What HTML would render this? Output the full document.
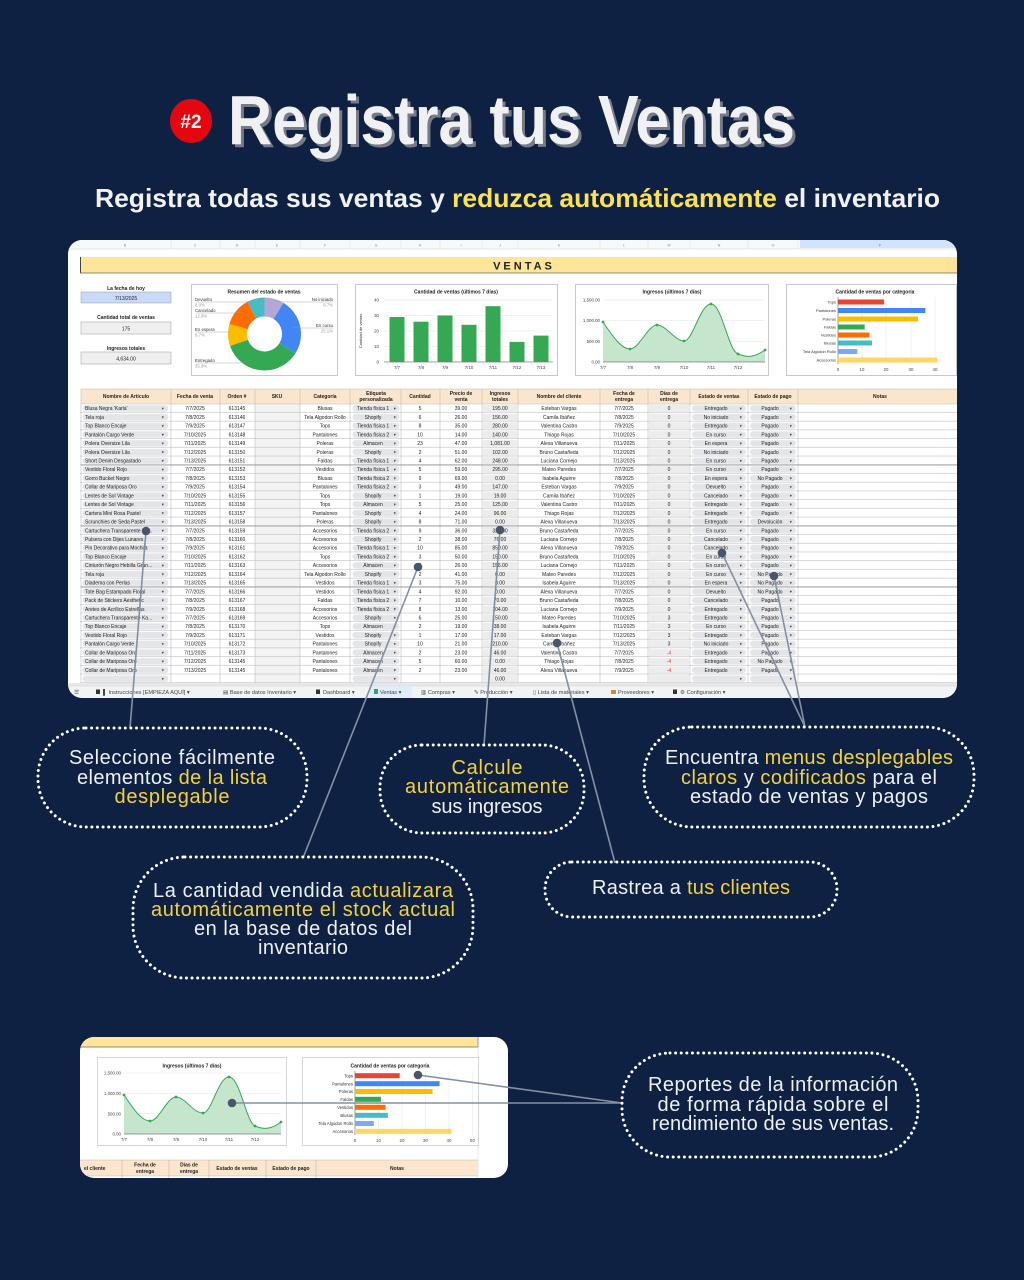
<!DOCTYPE html>
<html><head><meta charset="utf-8">
<style>
html,body{margin:0;padding:0;background:#0f2142;}
svg{display:block}
text{font-family:"Liberation Sans","DejaVu Sans",sans-serif}
.s{font-size:5px;fill:#222}
.m{text-anchor:middle}
.h{font-size:5px;font-weight:bold;fill:#222;text-anchor:middle}
.ax{font-size:4.4px;fill:#444}
.tt{font-size:5px;font-weight:bold;fill:#222;text-anchor:middle}
.co{font-size:20px;fill:#eef0f3;text-anchor:middle}
.y{fill:#f4d13d}
.dot{fill:#48566b}
.ln{stroke:#8490a4;stroke-width:1.6;fill:none}
.dd{fill:none;stroke:#fff;stroke-width:3;stroke-dasharray:0.01 5.6;stroke-linecap:round}
.tab{font-size:5.6px;fill:#444}
</style></head><body>
<svg width="1024" height="1280" viewBox="0 0 1024 1280" xmlns="http://www.w3.org/2000/svg">
<defs>
<clipPath id="sc"><rect x="68" y="240" width="889" height="458" rx="14"/></clipPath>
<clipPath id="ic"><rect x="80" y="1037" width="428" height="141" rx="14"/></clipPath>
<pattern id="rw" patternUnits="userSpaceOnUse" x="0" y="404" width="1024" height="8.72">
<rect width="1024" height="8.72" fill="#fff"/>
<rect x="255" width="45" height="8.72" fill="#f3f3f3"/>
<rect x="483" y="0.9" width="34" height="6.9" fill="#ececec"/>
<rect x="649" y="0.9" width="40" height="6.9" fill="#ececec"/>
<rect x="82.5" y="1.2" width="86" height="6.3" rx="3.1" fill="#e3e5e8"/>
<rect x="352.5" y="1.2" width="47" height="6.3" rx="3.1" fill="#e3e5e8"/>
<rect x="692" y="1.2" width="54" height="6.3" rx="3.1" fill="#e3e5e8"/>
<rect x="750" y="1.2" width="46" height="6.3" rx="3.1" fill="#e3e5e8"/>
<rect y="8.15" width="1024" height="0.6" fill="#bdbdbd"/>
<text x="161" y="5.8" font-size="3.6" fill="#333">▼</text>
<text x="393" y="5.8" font-size="3.6" fill="#333">▼</text>
<text x="739" y="5.8" font-size="3.6" fill="#333">▼</text>
<text x="789" y="5.8" font-size="3.6" fill="#333">▼</text>
</pattern>
</defs>
<rect width="1024" height="1280" fill="#0f2142"/>

<!-- Header -->
<ellipse cx="191" cy="121" rx="21" ry="22" fill="#e4070f"/>
<text x="191" y="128" text-anchor="middle" font-size="19" font-weight="bold" fill="#fff">#2</text>
<text x="231" y="147" font-size="70" font-weight="bold" fill="#767b88" textLength="567" lengthAdjust="spacingAndGlyphs">Registra tus Ventas</text>
<text x="228" y="144" font-size="70" font-weight="bold" fill="#f1f1f3" textLength="567" lengthAdjust="spacingAndGlyphs">Registra tus Ventas</text>
<text x="95" y="207" font-size="26" font-weight="bold" fill="#f1f1f3" textLength="845" lengthAdjust="spacingAndGlyphs">Registra todas sus ventas y <tspan fill="#fde24f">reduzca automáticamente</tspan> el inventario</text>

<!-- Spreadsheet -->
<g clip-path="url(#sc)">
<rect x="68" y="240" width="889" height="458" fill="#fff"/>
<rect x="68" y="240" width="889" height="9" fill="#f8f9fa"/>
<rect x="800" y="240" width="157" height="8" fill="#d3e3fd"/>
<line x1="68" y1="249" x2="957" y2="249" stroke="#ccc" stroke-width="0.6"/>
<g font-size="3.6" fill="#888" text-anchor="middle">
<text x="125" y="246.5">B</text><text x="195" y="246.5">C</text><text x="237" y="246.5">D</text><text x="277" y="246.5">E</text><text x="325" y="246.5">F</text><text x="376" y="246.5">G</text><text x="420" y="246.5">H</text><text x="461" y="246.5">I</text><text x="500" y="246.5">J</text><text x="559" y="246.5">K</text><text x="624" y="246.5">L</text><text x="669" y="246.5">M</text><text x="719" y="246.5">N</text><text x="773" y="246.5">O</text><text x="880" y="246.5">P</text>
</g>
<g stroke="#ddd" stroke-width="0.5"><line x1="171" y1="240" x2="171" y2="249"/><line x1="220" y1="240" x2="220" y2="249"/><line x1="255" y1="240" x2="255" y2="249"/><line x1="300" y1="240" x2="300" y2="249"/><line x1="350" y1="240" x2="350" y2="249"/><line x1="401" y1="240" x2="401" y2="249"/><line x1="440" y1="240" x2="440" y2="249"/><line x1="482" y1="240" x2="482" y2="249"/><line x1="518" y1="240" x2="518" y2="249"/><line x1="600" y1="240" x2="600" y2="249"/><line x1="648" y1="240" x2="648" y2="249"/><line x1="690" y1="240" x2="690" y2="249"/><line x1="748" y1="240" x2="748" y2="249"/><line x1="798" y1="240" x2="798" y2="249"/></g>

<!-- banner -->
<rect x="80" y="257" width="877" height="16" fill="#ffe599"/>
<line x1="80.5" y1="257" x2="80.5" y2="273" stroke="#444" stroke-width="1"/>
<line x1="80" y1="273" x2="957" y2="273" stroke="#666" stroke-width="0.8"/>
<text x="524" y="269.5" text-anchor="middle" font-size="11" font-weight="bold" fill="#222" letter-spacing="3">VENTAS</text>

<!-- left summary -->
<text x="126" y="290" class="tt" font-size="5.6">La fecha de hoy</text>
<rect x="81" y="292" width="90" height="11" fill="#c9daf8" stroke="#999" stroke-width="0.5"/>
<text x="126" y="299.8" class="s m" font-size="5.4">7/13/2025</text>
<text x="126" y="319" class="tt" font-size="5.6">Cantidad total de ventas</text>
<rect x="81" y="322" width="90" height="12" fill="#efefef" stroke="#999" stroke-width="0.5"/>
<text x="126" y="330.3" class="s m" font-size="5.4">175</text>
<text x="126" y="350" class="tt" font-size="5.6">Ingresos totales</text>
<rect x="81" y="352" width="90" height="12" fill="#efefef" stroke="#999" stroke-width="0.5"/>
<text x="126" y="360.3" class="s m" font-size="5.4">4,634.00</text>

<!-- donut chart -->
<rect x="191.5" y="284.5" width="146" height="91" fill="#fff" stroke="#bbb" stroke-width="0.8"/>
<text x="264" y="293.5" class="tt" font-size="4.6">Resumen del estado de ventas</text>
<g transform="rotate(-90 264.5 334)" fill="none" stroke-width="19">
<circle cx="264.5" cy="334" r="27" stroke="#b4a7d6" stroke-dasharray="14.76 200" stroke-dashoffset="0"/>
<circle cx="264.5" cy="334" r="27" stroke="#4285f4" stroke-dasharray="42.58 200" stroke-dashoffset="-14.76"/>
<circle cx="264.5" cy="334" r="27" stroke="#34a853" stroke-dasharray="60.73 200" stroke-dashoffset="-57.34"/>
<circle cx="264.5" cy="334" r="27" stroke="#fbbc04" stroke-dasharray="16.46 200" stroke-dashoffset="-118.07"/>
<circle cx="264.5" cy="334" r="27" stroke="#ff6d01" stroke-dasharray="21.72 200" stroke-dashoffset="-134.53"/>
<circle cx="264.5" cy="334" r="27" stroke="#46bdc6" stroke-dasharray="13.40 200" stroke-dashoffset="-156.25"/>
</g>
<g stroke="#999" stroke-width="0.4" fill="none">
<polyline points="196,302 245,302 258,300"/><polyline points="196,313 235,313 240,312"/><polyline points="196,332 230,332"/><polyline points="196,363 240,363 252,360"/><polyline points="333,302 285,302 275,301"/><polyline points="333,328 300,328 292,327"/>
</g>
<g font-size="4.3" fill="#333">
<text x="195" y="301">Devuelto</text><text x="195" y="306.5" fill="#999">8.0%</text>
<text x="195" y="312">Cancelado</text><text x="195" y="317.5" fill="#999">12.8%</text>
<text x="195" y="331">En espera</text><text x="195" y="336.5" fill="#999">9.7%</text>
<text x="195" y="362">Entregado</text><text x="195" y="367.5" fill="#999">35.8%</text>
<text x="333" y="301" text-anchor="end">No iniciado</text><text x="333" y="306.5" text-anchor="end" fill="#999">8.7%</text>
<text x="333" y="327" text-anchor="end">En curso</text><text x="333" y="332.5" text-anchor="end" fill="#999">25.1%</text>
</g>

<!-- bar chart -->
<rect x="355.5" y="284.5" width="202" height="91" fill="#fff" stroke="#bbb" stroke-width="0.8"/>
<text x="456" y="293.5" class="tt" font-size="4.6">Cantidad de ventas (últimos 7 días)</text>
<g stroke="#e3e3e3" stroke-width="0.5"><line x1="384" y1="300" x2="553" y2="300"/><line x1="384" y1="315.5" x2="553" y2="315.5"/><line x1="384" y1="331" x2="553" y2="331"/><line x1="384" y1="346.5" x2="553" y2="346.5"/></g>
<line x1="384" y1="362" x2="553" y2="362" stroke="#444" stroke-width="0.5"/>
<g class="ax" text-anchor="end"><text x="379" y="301.5">40</text><text x="379" y="317">30</text><text x="379" y="332.5">20</text><text x="379" y="348">10</text><text x="379" y="363.5">0</text></g>
<text transform="translate(362 331) rotate(-90)" text-anchor="middle" font-size="4" fill="#333">Cantidad de ventas</text>
<g fill="#34a853">
<rect x="389.5" y="317" width="15" height="45"/><rect x="413.5" y="321.7" width="15" height="40.3"/><rect x="437.5" y="315.5" width="15" height="46.5"/><rect x="461.5" y="324.8" width="15" height="37.2"/><rect x="485.5" y="306.2" width="15" height="55.8"/><rect x="509.5" y="341.9" width="15" height="20.1"/><rect x="533.5" y="335.6" width="15" height="26.4"/>
</g>
<g class="ax" text-anchor="middle"><text x="397" y="369">7/7</text><text x="421" y="369">7/8</text><text x="445" y="369">7/9</text><text x="469" y="369">7/10</text><text x="493" y="369">7/11</text><text x="517" y="369">7/12</text><text x="541" y="369">7/13</text></g>

<!-- line chart -->
<rect x="575.5" y="284.5" width="193" height="91" fill="#fff" stroke="#bbb" stroke-width="0.8"/>
<text x="672" y="293.5" class="tt" font-size="4.6">Ingresos (últimos 7 días)</text>
<g stroke="#e3e3e3" stroke-width="0.5"><line x1="603" y1="300" x2="765" y2="300"/><line x1="603" y1="320.7" x2="765" y2="320.7"/><line x1="603" y1="341.3" x2="765" y2="341.3"/></g>
<g class="ax" text-anchor="end"><text x="600" y="301.5">1,500.00</text><text x="600" y="322.2">1,000.00</text><text x="600" y="342.8">500.00</text><text x="600" y="363.5">0.00</text></g>
<path d="M603,322 C612,335 621,349 630,349 C639,349 648,325 657,325 C666,325 675,341 684,341 C693,341 700,304 711,304 C722,304 728,350 738,354 C748,358 755,357 765,350 L765,362 L603,362 Z" fill="#c5e5cc"/>
<path d="M603,322 C612,335 621,349 630,349 C639,349 648,325 657,325 C666,325 675,341 684,341 C693,341 700,304 711,304 C722,304 728,350 738,354 C748,358 755,357 765,350" fill="none" stroke="#34a853" stroke-width="1"/>
<line x1="603" y1="362" x2="765" y2="362" stroke="#444" stroke-width="0.5"/>
<g fill="#34a853"><circle cx="603" cy="322" r="1.4"/><circle cx="630" cy="349" r="1.4"/><circle cx="657" cy="325" r="1.4"/><circle cx="684" cy="341" r="1.4"/><circle cx="711" cy="304" r="1.4"/><circle cx="738" cy="354" r="1.4"/><circle cx="765" cy="350" r="1.4"/></g>
<g class="ax" text-anchor="middle"><text x="603" y="369">7/7</text><text x="630" y="369">7/8</text><text x="657" y="369">7/9</text><text x="684" y="369">7/10</text><text x="711" y="369">7/11</text><text x="738" y="369">7/12</text></g>

<!-- category chart -->
<rect x="786.5" y="284.5" width="170" height="91" fill="#fff" stroke="#bbb" stroke-width="0.8"/>
<text x="875" y="293.5" class="tt" font-size="4.6">Cantidad de ventas por categoría</text>
<g stroke="#e3e3e3" stroke-width="0.5"><line x1="862" y1="297" x2="862" y2="364"/><line x1="886" y1="297" x2="886" y2="364"/><line x1="911" y1="297" x2="911" y2="364"/><line x1="935" y1="297" x2="935" y2="364"/></g>
<line x1="838" y1="297" x2="838" y2="364" stroke="#444" stroke-width="0.5"/>
<g font-size="4" fill="#333" text-anchor="end">
<text x="836" y="303.4">Tops</text><text x="836" y="311.9">Pantalones</text><text x="836" y="320.4">Poleras</text><text x="836" y="328.4">Faldas</text><text x="836" y="336.4">Vestidos</text><text x="836" y="344.4">Blusas</text><text x="836" y="352.9">Tela Algodon Rollo</text><text x="836" y="361.4">Accesorios</text>
</g>
<rect x="838" y="299.5" width="46.1" height="5" fill="#ea4335"/>
<rect x="838" y="308" width="87.3" height="5" fill="#4285f4"/>
<rect x="838" y="316.5" width="80" height="5" fill="#fbbc04"/>
<rect x="838" y="324.5" width="26.7" height="5" fill="#34a853"/>
<rect x="838" y="332.5" width="31.5" height="5" fill="#ff6d01"/>
<rect x="838" y="340.5" width="34" height="5" fill="#46bdc6"/>
<rect x="838" y="349" width="19.4" height="5" fill="#7baaf7"/>
<rect x="838" y="357.5" width="99.4" height="5" fill="#fdd663"/>
<g class="ax" text-anchor="middle"><text x="838" y="371">0</text><text x="862" y="371">10</text><text x="886" y="371">20</text><text x="911" y="371">30</text><text x="935" y="371">40</text></g>

<!-- table -->
<rect x="81" y="389" width="876" height="15" fill="#fce5cd"/>
<rect x="80" y="404" width="877" height="279.04" fill="url(#rw)"/>
<g stroke="#bdbdbd" stroke-width="0.6">
<line x1="81" y1="389" x2="81" y2="683"/><line x1="171" y1="389" x2="171" y2="683"/><line x1="220" y1="389" x2="220" y2="683"/><line x1="255" y1="389" x2="255" y2="683"/><line x1="300" y1="389" x2="300" y2="683"/><line x1="350" y1="389" x2="350" y2="683"/><line x1="401" y1="389" x2="401" y2="683"/><line x1="440" y1="389" x2="440" y2="683"/><line x1="482" y1="389" x2="482" y2="683"/><line x1="518" y1="389" x2="518" y2="683"/><line x1="600" y1="389" x2="600" y2="683"/><line x1="648" y1="389" x2="648" y2="683"/><line x1="690" y1="389" x2="690" y2="683"/><line x1="748" y1="389" x2="748" y2="683"/><line x1="798" y1="389" x2="798" y2="683"/>
<line x1="81" y1="389" x2="957" y2="389"/><line x1="81" y1="404" x2="957" y2="404"/>
</g>
<g stroke="#888" stroke-width="0.7"><line x1="81" y1="465" x2="957" y2="465"/><line x1="81" y1="526" x2="957" y2="526"/><line x1="81" y1="587" x2="957" y2="587"/></g>
<g class="h">
<text x="126" y="398">Nombre de Artículo</text><text x="195" y="398">Fecha de venta</text><text x="237" y="398">Orden #</text><text x="277" y="398">SKU</text><text x="325" y="398">Categoría</text>
<text x="376" y="395">Etiqueta</text><text x="376" y="401">personalizada</text>
<text x="420" y="398">Cantidad</text>
<text x="461" y="395">Precio de</text><text x="461" y="401">venta</text>
<text x="500" y="395">Ingresos</text><text x="500" y="401">totales</text>
<text x="559" y="398">Nombre del cliente</text>
<text x="624" y="395">Fecha de</text><text x="624" y="401">entrega</text>
<text x="669" y="395">Días de</text><text x="669" y="401">entrega</text>
<text x="719" y="398">Estado de ventas</text><text x="773" y="398">Estado de pago</text><text x="880" y="398">Notas</text>
</g>

<text class="s" y="410.2"><tspan x="85">Blusa Negra 'Karla'</tspan><tspan x="85" dy="8.72">Tela roja</tspan><tspan x="85" dy="8.72">Top Blanco Encaje</tspan><tspan x="85" dy="8.72">Pantalón Cargo Verde</tspan><tspan x="85" dy="8.72">Polera Oversize Lila</tspan><tspan x="85" dy="8.72">Polera Oversize Lila</tspan><tspan x="85" dy="8.72">Short Denim Desgastado</tspan><tspan x="85" dy="8.72">Vestido Floral Rojo</tspan><tspan x="85" dy="8.72">Gorro Bucket Negro</tspan><tspan x="85" dy="8.72">Collar de Mariposa Oro</tspan><tspan x="85" dy="8.72">Lentes de Sol Vintage</tspan><tspan x="85" dy="8.72">Lentes de Sol Vintage</tspan><tspan x="85" dy="8.72">Cartera Mini Rosa Pastel</tspan><tspan x="85" dy="8.72">Scrunchies de Seda Pastel</tspan><tspan x="85" dy="8.72">Cartuchera Transparente Ka...</tspan><tspan x="85" dy="8.72">Pulsera con Dijes Lunares</tspan><tspan x="85" dy="8.72">Pin Decorativo para Mochila</tspan><tspan x="85" dy="8.72">Top Blanco Encaje</tspan><tspan x="85" dy="8.72">Cinturón Negro Hebilla Gran...</tspan><tspan x="85" dy="8.72">Tela roja</tspan><tspan x="85" dy="8.72">Diadema con Perlas</tspan><tspan x="85" dy="8.72">Tote Bag Estampado Floral</tspan><tspan x="85" dy="8.72">Pack de Stickers Aesthetic</tspan><tspan x="85" dy="8.72">Aretes de Acrílico Estrellas</tspan><tspan x="85" dy="8.72">Cartuchera Transparente Ka...</tspan><tspan x="85" dy="8.72">Top Blanco Encaje</tspan><tspan x="85" dy="8.72">Vestido Floral Rojo</tspan><tspan x="85" dy="8.72">Pantalón Cargo Verde</tspan><tspan x="85" dy="8.72">Collar de Mariposa Oro</tspan><tspan x="85" dy="8.72">Collar de Mariposa Oro</tspan><tspan x="85" dy="8.72">Collar de Mariposa Oro</tspan></text>

<text class="s m" y="410.2"><tspan x="195">7/7/2025</tspan><tspan x="195" dy="8.72">7/8/2025</tspan><tspan x="195" dy="8.72">7/9/2025</tspan><tspan x="195" dy="8.72">7/10/2025</tspan><tspan x="195" dy="8.72">7/11/2025</tspan><tspan x="195" dy="8.72">7/12/2025</tspan><tspan x="195" dy="8.72">7/13/2025</tspan><tspan x="195" dy="8.72">7/7/2025</tspan><tspan x="195" dy="8.72">7/8/2025</tspan><tspan x="195" dy="8.72">7/9/2025</tspan><tspan x="195" dy="8.72">7/10/2025</tspan><tspan x="195" dy="8.72">7/11/2025</tspan><tspan x="195" dy="8.72">7/12/2025</tspan><tspan x="195" dy="8.72">7/13/2025</tspan><tspan x="195" dy="8.72">7/7/2025</tspan><tspan x="195" dy="8.72">7/8/2025</tspan><tspan x="195" dy="8.72">7/9/2025</tspan><tspan x="195" dy="8.72">7/10/2025</tspan><tspan x="195" dy="8.72">7/11/2025</tspan><tspan x="195" dy="8.72">7/12/2025</tspan><tspan x="195" dy="8.72">7/13/2025</tspan><tspan x="195" dy="8.72">7/7/2025</tspan><tspan x="195" dy="8.72">7/8/2025</tspan><tspan x="195" dy="8.72">7/9/2025</tspan><tspan x="195" dy="8.72">7/7/2025</tspan><tspan x="195" dy="8.72">7/8/2025</tspan><tspan x="195" dy="8.72">7/9/2025</tspan><tspan x="195" dy="8.72">7/10/2025</tspan><tspan x="195" dy="8.72">7/11/2025</tspan><tspan x="195" dy="8.72">7/12/2025</tspan><tspan x="195" dy="8.72">7/13/2025</tspan></text>

<text class="s m" y="410.2"><tspan x="237">613145</tspan><tspan x="237" dy="8.72">613146</tspan><tspan x="237" dy="8.72">613147</tspan><tspan x="237" dy="8.72">613148</tspan><tspan x="237" dy="8.72">613149</tspan><tspan x="237" dy="8.72">613150</tspan><tspan x="237" dy="8.72">613151</tspan><tspan x="237" dy="8.72">613152</tspan><tspan x="237" dy="8.72">613153</tspan><tspan x="237" dy="8.72">613154</tspan><tspan x="237" dy="8.72">613155</tspan><tspan x="237" dy="8.72">613156</tspan><tspan x="237" dy="8.72">613157</tspan><tspan x="237" dy="8.72">613158</tspan><tspan x="237" dy="8.72">613159</tspan><tspan x="237" dy="8.72">613160</tspan><tspan x="237" dy="8.72">613161</tspan><tspan x="237" dy="8.72">613162</tspan><tspan x="237" dy="8.72">613163</tspan><tspan x="237" dy="8.72">613164</tspan><tspan x="237" dy="8.72">613165</tspan><tspan x="237" dy="8.72">613166</tspan><tspan x="237" dy="8.72">613167</tspan><tspan x="237" dy="8.72">613168</tspan><tspan x="237" dy="8.72">613169</tspan><tspan x="237" dy="8.72">613170</tspan><tspan x="237" dy="8.72">613171</tspan><tspan x="237" dy="8.72">613172</tspan><tspan x="237" dy="8.72">613173</tspan><tspan x="237" dy="8.72">613145</tspan><tspan x="237" dy="8.72">613145</tspan></text>

<text class="s m" y="410.2"><tspan x="325">Blusas</tspan><tspan x="325" dy="8.72">Tela Algodon Rollo</tspan><tspan x="325" dy="8.72">Tops</tspan><tspan x="325" dy="8.72">Pantalones</tspan><tspan x="325" dy="8.72">Poleras</tspan><tspan x="325" dy="8.72">Poleras</tspan><tspan x="325" dy="8.72">Faldas</tspan><tspan x="325" dy="8.72">Vestidos</tspan><tspan x="325" dy="8.72">Blusas</tspan><tspan x="325" dy="8.72">Pantalones</tspan><tspan x="325" dy="8.72">Tops</tspan><tspan x="325" dy="8.72">Tops</tspan><tspan x="325" dy="8.72">Pantalones</tspan><tspan x="325" dy="8.72">Poleras</tspan><tspan x="325" dy="8.72">Accesorios</tspan><tspan x="325" dy="8.72">Accesorios</tspan><tspan x="325" dy="8.72">Accesorios</tspan><tspan x="325" dy="8.72">Tops</tspan><tspan x="325" dy="8.72">Accesorios</tspan><tspan x="325" dy="8.72">Tela Algodon Rollo</tspan><tspan x="325" dy="8.72">Vestidos</tspan><tspan x="325" dy="8.72">Vestidos</tspan><tspan x="325" dy="8.72">Faldas</tspan><tspan x="325" dy="8.72">Accesorios</tspan><tspan x="325" dy="8.72">Accesorios</tspan><tspan x="325" dy="8.72">Tops</tspan><tspan x="325" dy="8.72">Vestidos</tspan><tspan x="325" dy="8.72">Pantalones</tspan><tspan x="325" dy="8.72">Pantalones</tspan><tspan x="325" dy="8.72">Pantalones</tspan><tspan x="325" dy="8.72">Pantalones</tspan></text>

<text class="s m" y="410.2"><tspan x="373">Tienda física 1</tspan><tspan x="373" dy="8.72">Shopify</tspan><tspan x="373" dy="8.72">Tienda física 1</tspan><tspan x="373" dy="8.72">Tienda física 2</tspan><tspan x="373" dy="8.72">Almacen</tspan><tspan x="373" dy="8.72">Shopify</tspan><tspan x="373" dy="8.72">Tienda física 1</tspan><tspan x="373" dy="8.72">Tienda física 1</tspan><tspan x="373" dy="8.72">Tienda física 2</tspan><tspan x="373" dy="8.72">Tienda física 2</tspan><tspan x="373" dy="8.72">Shopify</tspan><tspan x="373" dy="8.72">Almacen</tspan><tspan x="373" dy="8.72">Shopify</tspan><tspan x="373" dy="8.72">Shopify</tspan><tspan x="373" dy="8.72">Tienda física 2</tspan><tspan x="373" dy="8.72">Shopify</tspan><tspan x="373" dy="8.72">Tienda física 1</tspan><tspan x="373" dy="8.72">Tienda física 2</tspan><tspan x="373" dy="8.72">Almacen</tspan><tspan x="373" dy="8.72">Shopify</tspan><tspan x="373" dy="8.72">Tienda física 1</tspan><tspan x="373" dy="8.72">Tienda física 1</tspan><tspan x="373" dy="8.72">Tienda física 2</tspan><tspan x="373" dy="8.72">Tienda física 2</tspan><tspan x="373" dy="8.72">Shopify</tspan><tspan x="373" dy="8.72">Almacen</tspan><tspan x="373" dy="8.72">Shopify</tspan><tspan x="373" dy="8.72">Shopify</tspan><tspan x="373" dy="8.72">Almacen</tspan><tspan x="373" dy="8.72">Almacen</tspan><tspan x="373" dy="8.72">Almacen</tspan></text>

<text class="s m" y="410.2"><tspan x="420">5</tspan><tspan x="420" dy="8.72">6</tspan><tspan x="420" dy="8.72">8</tspan><tspan x="420" dy="8.72">10</tspan><tspan x="420" dy="8.72">23</tspan><tspan x="420" dy="8.72">2</tspan><tspan x="420" dy="8.72">4</tspan><tspan x="420" dy="8.72">5</tspan><tspan x="420" dy="8.72">9</tspan><tspan x="420" dy="8.72">3</tspan><tspan x="420" dy="8.72">1</tspan><tspan x="420" dy="8.72">5</tspan><tspan x="420" dy="8.72">4</tspan><tspan x="420" dy="8.72">8</tspan><tspan x="420" dy="8.72">9</tspan><tspan x="420" dy="8.72">2</tspan><tspan x="420" dy="8.72">10</tspan><tspan x="420" dy="8.72">3</tspan><tspan x="420" dy="8.72">6</tspan><tspan x="420" dy="8.72">2</tspan><tspan x="420" dy="8.72">3</tspan><tspan x="420" dy="8.72">4</tspan><tspan x="420" dy="8.72">7</tspan><tspan x="420" dy="8.72">8</tspan><tspan x="420" dy="8.72">6</tspan><tspan x="420" dy="8.72">2</tspan><tspan x="420" dy="8.72">1</tspan><tspan x="420" dy="8.72">10</tspan><tspan x="420" dy="8.72">2</tspan><tspan x="420" dy="8.72">5</tspan><tspan x="420" dy="8.72">2</tspan></text>

<text class="s m" y="410.2"><tspan x="461">39.00</tspan><tspan x="461" dy="8.72">26.00</tspan><tspan x="461" dy="8.72">35.00</tspan><tspan x="461" dy="8.72">14.00</tspan><tspan x="461" dy="8.72">47.00</tspan><tspan x="461" dy="8.72">51.00</tspan><tspan x="461" dy="8.72">62.00</tspan><tspan x="461" dy="8.72">59.00</tspan><tspan x="461" dy="8.72">69.00</tspan><tspan x="461" dy="8.72">49.00</tspan><tspan x="461" dy="8.72">19.00</tspan><tspan x="461" dy="8.72">25.00</tspan><tspan x="461" dy="8.72">24.00</tspan><tspan x="461" dy="8.72">71.00</tspan><tspan x="461" dy="8.72">36.00</tspan><tspan x="461" dy="8.72">38.00</tspan><tspan x="461" dy="8.72">85.00</tspan><tspan x="461" dy="8.72">50.00</tspan><tspan x="461" dy="8.72">26.00</tspan><tspan x="461" dy="8.72">41.00</tspan><tspan x="461" dy="8.72">75.00</tspan><tspan x="461" dy="8.72">92.00</tspan><tspan x="461" dy="8.72">10.00</tspan><tspan x="461" dy="8.72">13.00</tspan><tspan x="461" dy="8.72">25.00</tspan><tspan x="461" dy="8.72">19.00</tspan><tspan x="461" dy="8.72">17.00</tspan><tspan x="461" dy="8.72">21.00</tspan><tspan x="461" dy="8.72">23.00</tspan><tspan x="461" dy="8.72">60.00</tspan><tspan x="461" dy="8.72">23.00</tspan></text>

<text class="s m" y="410.2"><tspan x="500">195.00</tspan><tspan x="500" dy="8.72">156.00</tspan><tspan x="500" dy="8.72">280.00</tspan><tspan x="500" dy="8.72">140.00</tspan><tspan x="500" dy="8.72">1,081.00</tspan><tspan x="500" dy="8.72">102.00</tspan><tspan x="500" dy="8.72">248.00</tspan><tspan x="500" dy="8.72">295.00</tspan><tspan x="500" dy="8.72">0.00</tspan><tspan x="500" dy="8.72">147.00</tspan><tspan x="500" dy="8.72">19.00</tspan><tspan x="500" dy="8.72">125.00</tspan><tspan x="500" dy="8.72">96.00</tspan><tspan x="500" dy="8.72">0.00</tspan><tspan x="500" dy="8.72">324.00</tspan><tspan x="500" dy="8.72">76.00</tspan><tspan x="500" dy="8.72">850.00</tspan><tspan x="500" dy="8.72">150.00</tspan><tspan x="500" dy="8.72">156.00</tspan><tspan x="500" dy="8.72">0.00</tspan><tspan x="500" dy="8.72">0.00</tspan><tspan x="500" dy="8.72">0.00</tspan><tspan x="500" dy="8.72">70.00</tspan><tspan x="500" dy="8.72">104.00</tspan><tspan x="500" dy="8.72">150.00</tspan><tspan x="500" dy="8.72">38.00</tspan><tspan x="500" dy="8.72">17.00</tspan><tspan x="500" dy="8.72">210.00</tspan><tspan x="500" dy="8.72">46.00</tspan><tspan x="500" dy="8.72">0.00</tspan><tspan x="500" dy="8.72">46.00</tspan><tspan x="500" dy="8.72">0.00</tspan></text>

<text class="s m" y="410.2"><tspan x="559">Esteban Vargas</tspan><tspan x="559" dy="8.72">Camila Ibáñez</tspan><tspan x="559" dy="8.72">Valentina Castro</tspan><tspan x="559" dy="8.72">Thiago Rojas</tspan><tspan x="559" dy="8.72">Alexa Villanueva</tspan><tspan x="559" dy="8.72">Bruno Castañeda</tspan><tspan x="559" dy="8.72">Luciana Cornejo</tspan><tspan x="559" dy="8.72">Mateo Paredes</tspan><tspan x="559" dy="8.72">Isabela Aguirre</tspan><tspan x="559" dy="8.72">Esteban Vargas</tspan><tspan x="559" dy="8.72">Camila Ibáñez</tspan><tspan x="559" dy="8.72">Valentina Castro</tspan><tspan x="559" dy="8.72">Thiago Rojas</tspan><tspan x="559" dy="8.72">Alexa Villanueva</tspan><tspan x="559" dy="8.72">Bruno Castañeda</tspan><tspan x="559" dy="8.72">Luciana Cornejo</tspan><tspan x="559" dy="8.72">Alexa Villanueva</tspan><tspan x="559" dy="8.72">Bruno Castañeda</tspan><tspan x="559" dy="8.72">Luciana Cornejo</tspan><tspan x="559" dy="8.72">Mateo Paredes</tspan><tspan x="559" dy="8.72">Isabela Aguirre</tspan><tspan x="559" dy="8.72">Alexa Villanueva</tspan><tspan x="559" dy="8.72">Bruno Castañeda</tspan><tspan x="559" dy="8.72">Luciana Cornejo</tspan><tspan x="559" dy="8.72">Mateo Paredes</tspan><tspan x="559" dy="8.72">Isabela Aguirre</tspan><tspan x="559" dy="8.72">Esteban Vargas</tspan><tspan x="559" dy="8.72">Camila Ibáñez</tspan><tspan x="559" dy="8.72">Valentina Castro</tspan><tspan x="559" dy="8.72">Thiago Rojas</tspan><tspan x="559" dy="8.72">Alexa Villanueva</tspan></text>

<text class="s m" y="410.2"><tspan x="624">7/7/2025</tspan><tspan x="624" dy="8.72">7/8/2025</tspan><tspan x="624" dy="8.72">7/9/2025</tspan><tspan x="624" dy="8.72">7/10/2025</tspan><tspan x="624" dy="8.72">7/11/2025</tspan><tspan x="624" dy="8.72">7/12/2025</tspan><tspan x="624" dy="8.72">7/13/2025</tspan><tspan x="624" dy="8.72">7/7/2025</tspan><tspan x="624" dy="8.72">7/8/2025</tspan><tspan x="624" dy="8.72">7/9/2025</tspan><tspan x="624" dy="8.72">7/10/2025</tspan><tspan x="624" dy="8.72">7/11/2025</tspan><tspan x="624" dy="8.72">7/12/2025</tspan><tspan x="624" dy="8.72">7/13/2025</tspan><tspan x="624" dy="8.72">7/7/2025</tspan><tspan x="624" dy="8.72">7/8/2025</tspan><tspan x="624" dy="8.72">7/9/2025</tspan><tspan x="624" dy="8.72">7/10/2025</tspan><tspan x="624" dy="8.72">7/11/2025</tspan><tspan x="624" dy="8.72">7/12/2025</tspan><tspan x="624" dy="8.72">7/13/2025</tspan><tspan x="624" dy="8.72">7/7/2025</tspan><tspan x="624" dy="8.72">7/8/2025</tspan><tspan x="624" dy="8.72">7/9/2025</tspan><tspan x="624" dy="8.72">7/10/2025</tspan><tspan x="624" dy="8.72">7/11/2025</tspan><tspan x="624" dy="8.72">7/12/2025</tspan><tspan x="624" dy="8.72">7/13/2025</tspan><tspan x="624" dy="8.72">7/7/2025</tspan><tspan x="624" dy="8.72">7/8/2025</tspan><tspan x="624" dy="8.72">7/9/2025</tspan></text>

<text class="s m" y="410.2"><tspan x="669">0</tspan><tspan x="669" dy="8.72">0</tspan><tspan x="669" dy="8.72">0</tspan><tspan x="669" dy="8.72">0</tspan><tspan x="669" dy="8.72">0</tspan><tspan x="669" dy="8.72">0</tspan><tspan x="669" dy="8.72">0</tspan><tspan x="669" dy="8.72">0</tspan><tspan x="669" dy="8.72">0</tspan><tspan x="669" dy="8.72">0</tspan><tspan x="669" dy="8.72">0</tspan><tspan x="669" dy="8.72">0</tspan><tspan x="669" dy="8.72">0</tspan><tspan x="669" dy="8.72">0</tspan><tspan x="669" dy="8.72">0</tspan><tspan x="669" dy="8.72">0</tspan><tspan x="669" dy="8.72">0</tspan><tspan x="669" dy="8.72">0</tspan><tspan x="669" dy="8.72">0</tspan><tspan x="669" dy="8.72">0</tspan><tspan x="669" dy="8.72">0</tspan><tspan x="669" dy="8.72">0</tspan><tspan x="669" dy="8.72">0</tspan><tspan x="669" dy="8.72">0</tspan><tspan x="669" dy="8.72">3</tspan><tspan x="669" dy="8.72">3</tspan><tspan x="669" dy="8.72">3</tspan><tspan x="669" dy="8.72">3</tspan><tspan x="669" dy="8.72" fill="#e53935">-4</tspan><tspan x="669" dy="8.72" fill="#e53935">-4</tspan><tspan x="669" dy="8.72" fill="#e53935">-4</tspan></text>

<text class="s m" y="410.2"><tspan x="716">Entregado</tspan><tspan x="716" dy="8.72">No iniciado</tspan><tspan x="716" dy="8.72">Entregado</tspan><tspan x="716" dy="8.72">En curso</tspan><tspan x="716" dy="8.72">En espera</tspan><tspan x="716" dy="8.72">No iniciado</tspan><tspan x="716" dy="8.72">En curso</tspan><tspan x="716" dy="8.72">En curso</tspan><tspan x="716" dy="8.72">En espera</tspan><tspan x="716" dy="8.72">Devuelto</tspan><tspan x="716" dy="8.72">Cancelado</tspan><tspan x="716" dy="8.72">Entregado</tspan><tspan x="716" dy="8.72">Entregado</tspan><tspan x="716" dy="8.72">Entregado</tspan><tspan x="716" dy="8.72">En curso</tspan><tspan x="716" dy="8.72">Cancelado</tspan><tspan x="716" dy="8.72">Cancelado</tspan><tspan x="716" dy="8.72">En curso</tspan><tspan x="716" dy="8.72">En curso</tspan><tspan x="716" dy="8.72">En curso</tspan><tspan x="716" dy="8.72">En espera</tspan><tspan x="716" dy="8.72">Devuelto</tspan><tspan x="716" dy="8.72">Cancelado</tspan><tspan x="716" dy="8.72">Entregado</tspan><tspan x="716" dy="8.72">Entregado</tspan><tspan x="716" dy="8.72">En curso</tspan><tspan x="716" dy="8.72">Entregado</tspan><tspan x="716" dy="8.72">No iniciado</tspan><tspan x="716" dy="8.72">Entregado</tspan><tspan x="716" dy="8.72">Entregado</tspan><tspan x="716" dy="8.72">Entregado</tspan></text>

<text class="s m" y="410.2"><tspan x="770">Pagado</tspan><tspan x="770" dy="8.72">Pagado</tspan><tspan x="770" dy="8.72">Pagado</tspan><tspan x="770" dy="8.72">Pagado</tspan><tspan x="770" dy="8.72">Pagado</tspan><tspan x="770" dy="8.72">Pagado</tspan><tspan x="770" dy="8.72">Pagado</tspan><tspan x="770" dy="8.72">Pagado</tspan><tspan x="770" dy="8.72">No Pagado</tspan><tspan x="770" dy="8.72">Pagado</tspan><tspan x="770" dy="8.72">Pagado</tspan><tspan x="770" dy="8.72">Pagado</tspan><tspan x="770" dy="8.72">Pagado</tspan><tspan x="770" dy="8.72">Devolución</tspan><tspan x="770" dy="8.72">Pagado</tspan><tspan x="770" dy="8.72">Pagado</tspan><tspan x="770" dy="8.72">Pagado</tspan><tspan x="770" dy="8.72">Pagado</tspan><tspan x="770" dy="8.72">Pagado</tspan><tspan x="770" dy="8.72">No Pagado</tspan><tspan x="770" dy="8.72">No Pagado</tspan><tspan x="770" dy="8.72">No Pagado</tspan><tspan x="770" dy="8.72">Pagado</tspan><tspan x="770" dy="8.72">Pagado</tspan><tspan x="770" dy="8.72">Pagado</tspan><tspan x="770" dy="8.72">Pagado</tspan><tspan x="770" dy="8.72">Pagado</tspan><tspan x="770" dy="8.72">Pagado</tspan><tspan x="770" dy="8.72">Pagado</tspan><tspan x="770" dy="8.72">No Pagado</tspan><tspan x="770" dy="8.72">Pagado</tspan></text>

<!-- bottom bars -->
<rect x="68" y="683" width="889" height="3" fill="#e8e8e8"/>
<rect x="68" y="686" width="889" height="12" fill="#f1f3f4"/>
<line x1="68" y1="686" x2="957" y2="686" stroke="#d5d5d5" stroke-width="0.5"/>
<rect x="370" y="686" width="42" height="12" fill="#e1ecfb"/>
<text x="74" y="694" class="tab" fill="#666">☰</text>
<rect x="96" y="689.5" width="4" height="4.5" fill="#333"/>
<text x="103" y="694" class="tab">▌ Instrucciones [EMPIEZA AQUÍ]  ▾</text>
<text x="223" y="694" class="tab">▤ Base de datos Inventario  ▾</text>
<rect x="316" y="689.5" width="4" height="4.5" fill="#333"/>
<text x="323" y="694" class="tab">Dashboard  ▾</text>
<rect x="374" y="689" width="4" height="5" fill="#34a853"/>
<text x="380" y="694" class="tab" fill="#1a73e8">Ventas  ▾</text>
<text x="421" y="694" class="tab">▥ Compras  ▾</text>
<text x="474" y="694" class="tab">✎ Producción  ▾</text>
<text x="533" y="694" class="tab">▯ Lista de materiales  ▾</text>
<rect x="611" y="690" width="5" height="4" fill="#e0862a"/>
<text x="618" y="694" class="tab">Proveedores  ▾</text>
<rect x="673" y="689.5" width="4" height="4.5" fill="#333"/>
<text x="680" y="694" class="tab">⚙ Configuración  ▾</text>
</g>

<!-- Inset -->
<g clip-path="url(#ic)">
<rect x="80" y="1037" width="428" height="141" fill="#fff"/>
<rect x="80" y="1037" width="398" height="10" fill="#ffe599"/>
<line x1="80" y1="1047" x2="478" y2="1047" stroke="#666" stroke-width="0.8"/>
<line x1="478" y1="1037" x2="478" y2="1047" stroke="#888" stroke-width="0.8"/>
<line x1="478" y1="1047" x2="478" y2="1178" stroke="#ddd" stroke-width="0.6"/>

<rect x="97.5" y="1057.5" width="189" height="88" fill="#fff" stroke="#ccc" stroke-width="0.8"/>
<text x="192" y="1067.5" class="tt" font-size="5">Ingresos (últimos 7 días)</text>
<g stroke="#e3e3e3" stroke-width="0.5"><line x1="124" y1="1073" x2="281" y2="1073"/><line x1="124" y1="1093.4" x2="281" y2="1093.4"/><line x1="124" y1="1113.7" x2="281" y2="1113.7"/></g>
<g class="ax" text-anchor="end" font-size="4.6"><text x="121" y="1074.5">1,500.00</text><text x="121" y="1095">1,000.00</text><text x="121" y="1115.3">500.00</text><text x="121" y="1135.6">0.00</text></g>
<path d="M124,1095 C133,1108 141,1121 150,1121 C159,1121 167,1097 176,1097 C185,1097 193,1113 203,1113 C212,1113 218,1077 229,1077 C240,1077 246,1122 255,1126 C264,1130 272,1129 281,1122 L281,1134 L124,1134 Z" fill="#c5e5cc"/>
<path d="M124,1095 C133,1108 141,1121 150,1121 C159,1121 167,1097 176,1097 C185,1097 193,1113 203,1113 C212,1113 218,1077 229,1077 C240,1077 246,1122 255,1126 C264,1130 272,1129 281,1122" fill="none" stroke="#34a853" stroke-width="1"/>
<line x1="124" y1="1134" x2="281" y2="1134" stroke="#444" stroke-width="0.5"/>
<g fill="#34a853"><circle cx="124" cy="1095" r="1.4"/><circle cx="150" cy="1121" r="1.4"/><circle cx="176" cy="1097" r="1.4"/><circle cx="203" cy="1113" r="1.4"/><circle cx="229" cy="1077" r="1.4"/><circle cx="255" cy="1126" r="1.4"/><circle cx="281" cy="1122" r="1.4"/></g>
<g class="ax" text-anchor="middle" font-size="4.6"><text x="124" y="1141">7/7</text><text x="150" y="1141">7/8</text><text x="176" y="1141">7/9</text><text x="203" y="1141">7/10</text><text x="229" y="1141">7/11</text><text x="255" y="1141">7/12</text></g>

<rect x="302.5" y="1057.5" width="176" height="88" fill="#fff" stroke="#ccc" stroke-width="0.8"/>
<text x="390" y="1067.5" class="tt" font-size="4.8">Cantidad de ventas por categoría</text>
<g stroke="#e3e3e3" stroke-width="0.5"><line x1="378.5" y1="1071" x2="378.5" y2="1135"/><line x1="402" y1="1071" x2="402" y2="1135"/><line x1="425.5" y1="1071" x2="425.5" y2="1135"/><line x1="449" y1="1071" x2="449" y2="1135"/><line x1="472.5" y1="1071" x2="472.5" y2="1135"/></g>
<line x1="355" y1="1071" x2="355" y2="1135" stroke="#444" stroke-width="0.5"/>
<g font-size="4.2" fill="#333" text-anchor="end">
<text x="353" y="1077.3">Tops</text><text x="353" y="1085.3">Pantalones</text><text x="353" y="1093.1">Poleras</text><text x="353" y="1100.9">Faldas</text><text x="353" y="1108.9">Vestidos</text><text x="353" y="1116.9">Blusas</text><text x="353" y="1125.1">Tela Algodon Rollo</text><text x="353" y="1132.9">Accesorios</text>
</g>
<rect x="355" y="1073.2" width="44.7" height="5" fill="#ea4335"/>
<rect x="355" y="1081.2" width="84.6" height="5" fill="#4285f4"/>
<rect x="355" y="1089" width="77.6" height="5" fill="#fbbc04"/>
<rect x="355" y="1096.8" width="25.9" height="5" fill="#34a853"/>
<rect x="355" y="1104.8" width="30.6" height="5" fill="#ff6d01"/>
<rect x="355" y="1112.8" width="32.9" height="5" fill="#46bdc6"/>
<rect x="355" y="1121" width="18.8" height="5" fill="#7baaf7"/>
<rect x="355" y="1128.8" width="96.4" height="5" fill="#fdd663"/>
<g class="ax" text-anchor="middle" font-size="4.6"><text x="355" y="1142">0</text><text x="378.5" y="1142">10</text><text x="402" y="1142">20</text><text x="425.5" y="1142">30</text><text x="449" y="1142">40</text><text x="472.5" y="1142">50</text></g>

<rect x="80" y="1160" width="398" height="16" fill="#fce5cd"/>
<g stroke="#bbb" stroke-width="0.6"><line x1="80" y1="1160" x2="478" y2="1160"/><line x1="80" y1="1176" x2="478" y2="1176"/><line x1="122" y1="1160" x2="122" y2="1178"/><line x1="169" y1="1160" x2="169" y2="1178"/><line x1="209" y1="1160" x2="209" y2="1178"/><line x1="266" y1="1160" x2="266" y2="1178"/><line x1="316" y1="1160" x2="316" y2="1178"/></g>
<g class="h" font-size="5.4">
<text x="84" y="1170" text-anchor="start">el cliente</text>
<text x="145" y="1166.5">Fecha de</text><text x="145" y="1173">entrega</text>
<text x="189" y="1166.5">Días de</text><text x="189" y="1173">entrega</text>
<text x="237" y="1170">Estado de ventas</text><text x="291" y="1170">Estado de pago</text><text x="397" y="1170">Notas</text>
</g>
</g>

<!-- connector lines -->
<g class="ln">
<path d="M146,531 L130,728"/>
<path d="M418,567 L303,858"/>
<path d="M500,530 L484,745"/>
<path d="M557,643 L615,863"/>
<path d="M722,553 L805,727"/>
<path d="M774,576 L805,727"/>
<path d="M418,1075 L622,1103"/>
<path d="M232,1103 L622,1103"/>
</g>
<g class="dot">
<circle cx="146" cy="531" r="4.3"/><circle cx="418" cy="567" r="4.3"/><circle cx="500" cy="530" r="4.3"/><circle cx="557" cy="643" r="4.3"/><circle cx="722" cy="553" r="4.3"/><circle cx="774" cy="576" r="4.3"/><circle cx="418" cy="1075" r="4.3"/><circle cx="232" cy="1103" r="4.3"/>
</g>

<!-- callouts -->
<rect class="dd" x="38" y="728" width="269" height="99" rx="48"/>
<rect class="dd" x="380" y="745" width="204" height="88" rx="42"/>
<rect class="dd" x="644" y="727" width="330" height="100" rx="48"/>
<rect class="dd" x="133" y="857" width="340" height="121" rx="52"/>
<rect class="dd" x="545" y="862" width="292" height="55" rx="27"/>
<rect class="dd" x="622" y="1053" width="296" height="104" rx="48"/>

<text class="co" x="172" y="764" textLength="206">Seleccione fácilmente</text>
<text class="co" x="172" y="784" textLength="190">elementos <tspan class="y">de la lista</tspan></text>
<text class="co y" x="172" y="803" textLength="115">desplegable</text>

<text class="co y" x="487" y="774" textLength="71">Calcule</text>
<text class="co y" x="487" y="793" textLength="164">automáticamente</text>
<text class="co" x="487" y="813" textLength="111">sus ingresos</text>

<text class="co" x="809" y="764" textLength="288">Encuentra <tspan class="y">menus desplegables</tspan></text>
<text class="co" x="809" y="784" textLength="256"><tspan class="y">claros</tspan> y <tspan class="y">codificados</tspan> para el</text>
<text class="co" x="809" y="803" textLength="238">estado de ventas y pagos</text>

<text class="co" x="303" y="897" textLength="300">La cantidad vendida <tspan class="y">actualizara</tspan></text>
<text class="co y" x="303" y="916" textLength="304">automáticamente el stock actual</text>
<text class="co" x="303" y="935" textLength="218">en la base de datos del</text>
<text class="co" x="303" y="954" textLength="90">inventario</text>

<text class="co" x="691" y="894" textLength="198">Rastrea a <tspan class="y">tus clientes</tspan></text>

<text class="co" x="773" y="1091" textLength="250">Reportes de la información</text>
<text class="co" x="773" y="1111" textLength="231">de forma rápida sobre el</text>
<text class="co" x="773" y="1130" textLength="242">rendimiento de sus ventas.</text>
</svg>
</body></html>
